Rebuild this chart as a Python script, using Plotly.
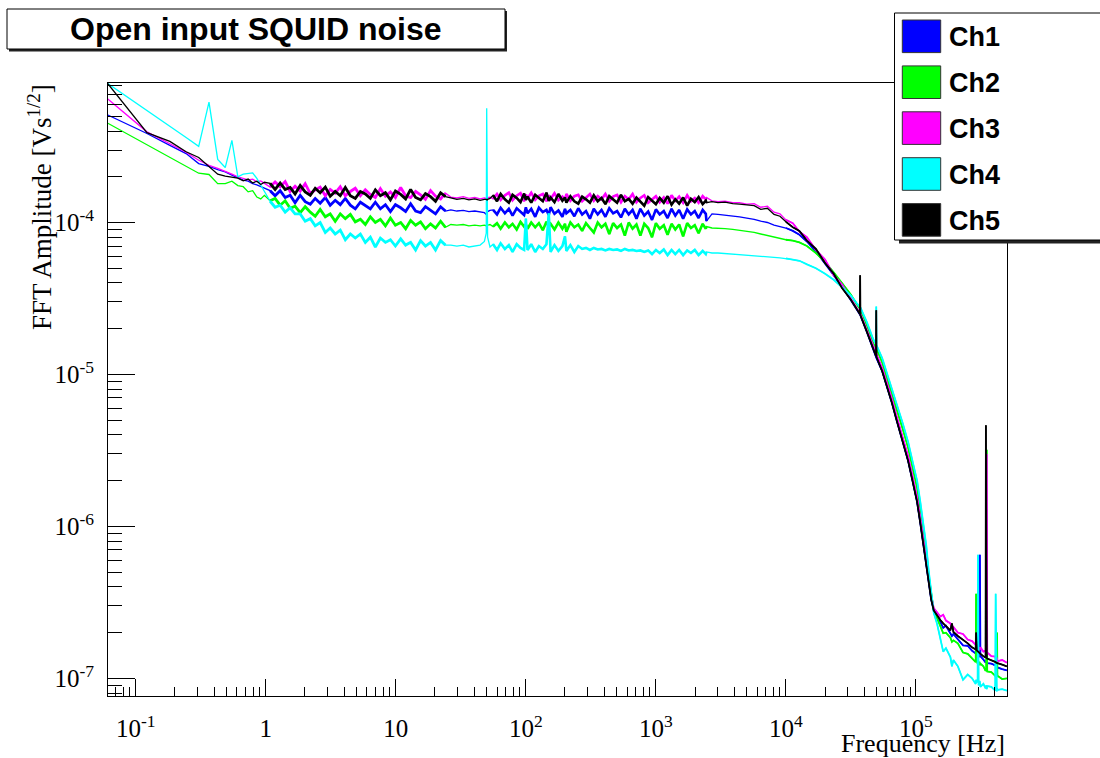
import plotly.graph_objects as go

# ---------------- data ----------------
AMP_UNIT = 1e-4  # all amplitude lists below are in units of 1e-4 V s^1/2

CHANNELS = ["Ch1", "Ch2", "Ch3", "Ch4", "Ch5"]
COLORS = ["#0000ff", "#00ff00", "#ff00ff", "#00ffff", "#000000"]

# block 1: lowest frequency bins (Hz)
FREQ_LOW = [0.061, 0.122, 0.183, 0.244, 0.305, 0.366, 0.427, 0.488, 0.549, 0.610,
            0.671, 0.732, 0.793, 0.854, 0.915, 0.976]
CH1_LOW = [5.1, 3.85, 3.22, 2.84, 2.44, 2.34, 2.23, 2.15, 2.05, 1.98, 1.90, 1.87, 1.80, 1.77, 1.72, 1.69]
CH2_LOW = [4.5, 3.26, 2.68, 2.34, 2.11, 2.07, 1.80, 1.80, 1.87, 1.75, 1.72, 1.59, 1.62, 1.47, 1.43, 1.51]
CH3_LOW = [6.5, 3.95, 3.30, 2.90, 2.57, 2.38, 2.27, 2.18, 2.08, 2.00, 1.96, 1.91, 1.93, 1.85, 1.88, 1.81]
CH4_LOW = [8.2, 5.49, 4.30, 3.63, 3.17, 6.20, 2.60, 2.30, 3.47, 2.00, 2.08, 2.10, 2.12, 1.95, 1.75, 1.60]
CH5_LOW = [8.2, 3.90, 3.42, 2.92, 2.68, 2.35, 2.08, 2.02, 1.98, 1.96, 1.88, 1.93, 1.82, 1.87, 1.78, 1.84]

# block 2: 1 - 25 Hz (dense, noisy)
FREQ_M1 = [1.08, 1.18, 1.29, 1.41, 1.54, 1.68, 1.84, 2.01, 2.2, 2.4, 2.62, 2.87, 3.13, 3.42, 3.74, 4.09,
           4.47, 4.88, 5.34, 5.83, 6.37, 6.96, 7.61, 8.32, 9.09, 9.93, 10.9, 11.9, 13.0, 14.2, 15.5, 16.9,
           18.5, 20.2, 22.1, 24.1]
CH1_M1 = [1.62, 1.50, 1.62, 1.46, 1.51, 1.35, 1.51, 1.37, 1.32, 1.44, 1.34, 1.46, 1.30, 1.40, 1.31, 1.44,
          1.30, 1.23, 1.36, 1.30, 1.23, 1.36, 1.23, 1.31, 1.18, 1.31, 1.25, 1.18, 1.33, 1.19, 1.16, 1.27,
          1.21, 1.14, 1.27, 1.19]
CH2_M1 = [1.39, 1.44, 1.30, 1.39, 1.24, 1.28, 1.16, 1.27, 1.17, 1.10, 1.22, 1.09, 1.14, 1.02, 1.14, 1.06,
          1.13, 1.01, 1.05, 0.97, 1.09, 1.00, 1.05, 0.95, 1.07, 0.96, 1.00, 0.91, 1.03, 0.96, 1.01, 0.91,
          0.98, 0.92, 1.02, 0.93]
CH3_M1 = [1.71, 1.85, 1.72, 1.86, 1.60, 1.73, 1.61, 1.80, 1.55, 1.64, 1.71, 1.50, 1.65, 1.56, 1.72, 1.50,
          1.60, 1.68, 1.50, 1.64, 1.53, 1.46, 1.67, 1.49, 1.59, 1.46, 1.70, 1.50, 1.46, 1.60, 1.52, 1.42,
          1.62, 1.49, 1.43, 1.56]
CH4_M1 = [1.38, 1.26, 1.30, 1.17, 1.25, 1.14, 1.14, 1.02, 1.06, 0.95, 1.00, 0.86, 0.92, 0.84, 0.89, 0.77,
          0.84, 0.79, 0.84, 0.74, 0.80, 0.69, 0.79, 0.74, 0.77, 0.70, 0.78, 0.71, 0.74, 0.66, 0.76, 0.70,
          0.74, 0.66, 0.76, 0.71]
CH5_M1 = [1.81, 1.65, 1.82, 1.65, 1.70, 1.54, 1.75, 1.59, 1.51, 1.68, 1.57, 1.71, 1.49, 1.60, 1.50, 1.70,
          1.50, 1.44, 1.60, 1.54, 1.44, 1.64, 1.50, 1.57, 1.41, 1.61, 1.53, 1.43, 1.65, 1.46, 1.41, 1.55,
          1.48, 1.38, 1.57, 1.48]

# block 3: 25 - 53 Hz (50 Hz line)
FREQ_M2 = [26.5, 29.5, 33.0, 36.5, 40.5, 44.5, 48.0, 49.6, 50.0, 50.2, 50.4, 50.8, 53.0]
CH1_M2 = [1.21, 1.19, 1.20, 1.18, 1.19, 1.17, 1.16, 1.13, 1.15, 1.16, 1.17, 1.18, 1.20]
CH2_M2 = [0.97, 0.96, 0.97, 0.95, 0.96, 0.95, 0.96, 0.95, 0.98, 0.96, 0.95, 0.96, 0.97]
CH3_M2 = [1.47, 1.45, 1.48, 1.44, 1.46, 1.43, 1.45, 1.44, 1.46, 1.45, 1.44, 1.46, 1.47]
CH4_M2 = [0.71, 0.70, 0.71, 0.69, 0.70, 0.71, 0.75, 0.85, 5.65, 1.20, 2.90, 0.80, 0.69]
CH5_M2 = [1.45, 1.42, 1.44, 1.41, 1.43, 1.40, 1.42, 1.41, 1.42, 1.40, 1.41, 1.42, 1.44]

# block 4: 56 - 2450 Hz (dense, noisy)
FREQ_M3 = [56, 60, 64, 69, 74, 79, 85, 91, 97, 100,
           103, 110, 118, 126, 135, 144, 150, 155, 166, 178,
           191, 200, 205, 220, 236, 253, 271, 290, 311, 333,
           357, 382, 409, 438, 469, 503, 539, 577, 618, 662,
           709, 760, 814, 872, 934, 1000, 1070, 1150, 1230, 1320,
           1410, 1510, 1620, 1740, 1860, 1990, 2130, 2290, 2420, 2450]
CH1_M3 = [1.21, 1.13, 1.25, 1.15, 1.23, 1.11, 1.24, 1.18, 1.12, 1.26,
          1.15, 1.23, 1.09, 1.25, 1.17, 1.21, 1.12, 1.26, 1.14, 1.20,
          1.09, 1.23, 1.15, 1.21, 1.10, 1.24, 1.13, 1.19, 1.06, 1.23,
          1.13, 1.21, 1.09, 1.24, 1.15, 1.19, 1.08, 1.23, 1.13, 1.21,
          1.06, 1.23, 1.11, 1.18, 1.04, 1.22, 1.13, 1.19, 1.07, 1.23,
          1.11, 1.21, 1.06, 1.22, 1.13, 1.19, 1.07, 1.21, 1.14, 1.02]
CH2_M3 = [0.94, 0.99, 0.91, 1.00, 0.93, 0.98, 0.90, 1.01, 0.94, 0.97,
          0.91, 1.00, 0.93, 0.99, 0.89, 1.01, 0.94, 0.98, 0.90, 1.00,
          0.91, 0.98, 0.87, 1.00, 0.93, 0.97, 0.88, 0.99, 0.92, 0.86,
          1.00, 0.93, 0.98, 0.84, 0.99, 0.92, 0.97, 0.82, 1.00, 0.91,
          0.97, 0.82, 0.98, 0.92, 0.80, 0.99, 0.91, 0.96, 0.83, 0.98,
          0.90, 0.97, 0.81, 0.99, 0.92, 0.96, 0.85, 0.98, 0.91, 0.94]
CH3_M3 = [1.43, 1.54, 1.41, 1.51, 1.57, 1.40, 1.50, 1.56, 1.38, 1.53,
          1.44, 1.57, 1.41, 1.50, 1.54, 1.38, 1.51, 1.43, 1.56, 1.40,
          1.48, 1.41, 1.54, 1.39, 1.49, 1.52, 1.38, 1.46, 1.54, 1.39,
          1.49, 1.42, 1.54, 1.38, 1.48, 1.52, 1.36, 1.49, 1.42, 1.54,
          1.36, 1.45, 1.51, 1.35, 1.42, 1.49, 1.36, 1.46, 1.33, 1.51,
          1.39, 1.48, 1.35, 1.51, 1.38, 1.45, 1.35, 1.49, 1.42, 1.46]
CH4_M3 = [0.72, 0.66, 0.73, 0.67, 0.71, 0.64, 0.72, 0.68, 0.66, 1.06,
          0.66, 0.72, 0.64, 0.70, 0.67, 0.72, 1.15, 0.64, 0.71, 0.65,
          0.70, 0.81, 0.65, 0.71, 0.64, 0.70, 0.67, 0.68, 0.66, 0.68,
          0.665, 0.67, 0.655, 0.67, 0.66, 0.665, 0.65, 0.67, 0.655, 0.66,
          0.65, 0.655, 0.64, 0.655, 0.62, 0.66, 0.63, 0.665, 0.61, 0.66,
          0.62, 0.66, 0.61, 0.655, 0.63, 0.66, 0.61, 0.65, 0.62, 0.64]
CH5_M3 = [1.51, 1.38, 1.54, 1.42, 1.35, 1.52, 1.45, 1.36, 1.55, 1.41,
          1.48, 1.35, 1.52, 1.44, 1.38, 1.57, 1.39, 1.46, 1.36, 1.54,
          1.39, 1.46, 1.35, 1.49, 1.38, 1.33, 1.48, 1.42, 1.35, 1.51,
          1.38, 1.45, 1.32, 1.49, 1.41, 1.35, 1.52, 1.38, 1.43, 1.33,
          1.46, 1.36, 1.29, 1.47, 1.39, 1.32, 1.45, 1.35, 1.49, 1.31,
          1.42, 1.33, 1.46, 1.29, 1.43, 1.36, 1.47, 1.32, 1.39, 1.35]

# block 5: 2.7 - 9 kHz
FREQ_M4 = [2700, 3000, 3400, 3900, 4400, 5000, 5700, 6400, 7200, 8100, 9000]
CH1_M4 = [1.14, 1.13, 1.12, 1.11, 1.09, 1.07, 1.05, 1.02, 1.00, 0.96, 0.94]
CH2_M4 = [0.92, 0.92, 0.91, 0.90, 0.89, 0.88, 0.86, 0.84, 0.82, 0.80, 0.78]
CH3_M4 = [1.39, 1.37, 1.38, 1.35, 1.35, 1.32, 1.33, 1.26, 1.28, 1.17, 1.14]
CH4_M4 = [0.63, 0.63, 0.625, 0.62, 0.62, 0.615, 0.61, 0.60, 0.595, 0.59, 0.585]
CH5_M4 = [1.37, 1.35, 1.36, 1.33, 1.32, 1.30, 1.29, 1.22, 1.24, 1.13, 1.10]

# block 6: roll-off and high-frequency tail
FREQ_R = [1.0e4, 1.13e4, 1.27e4, 1.45e4, 1.7e4, 2.0e4, 2.33e4, 2.7e4, 3.16e4, 3.5e4,
          3.70e4, 3.72e4, 3.74e4, 4.2e4, 4.7e4, 4.93e4, 4.95e4, 4.97e4, 5.5e4, 6.0e4,
          6.5e4, 7.1e4, 7.9e4, 8.7e4, 9.4e4, 1.02e5, 1.08e5, 1.14e5, 1.2e5, 1.25e5,
          1.31e5, 1.37e5, 1.45e5, 1.54e5, 1.62e5, 1.7e5, 1.84e5, 1.89e5, 1.94e5, 2.1e5,
          2.3e5, 2.5e5, 2.7e5, 2.88e5, 2.9e5, 2.93e5, 2.98e5, 3.0e5, 3.03e5, 3.08e5,
          3.1e5, 3.13e5, 3.3e5, 3.43e5, 3.45e5, 3.47e5, 3.5e5, 3.53e5, 3.8e5, 4.07e5,
          4.1e5, 4.13e5, 4.18e5, 4.2e5, 4.23e5, 4.6e5, 5.0e5]
CH1_R = [0.92, 0.88, 0.83, 0.75, 0.645, 0.54, 0.45, 0.38, 0.31, 0.27,
         0.25, 0.248, 0.245, 0.19, 0.145, 0.13, 0.129, 0.128, 0.105, 0.083,
         0.066, 0.050, 0.036, 0.027, 0.020, 0.0145, 0.0105, 0.0075, 0.0055, 0.0042,
         0.0033, 0.0028, 0.0025, 0.00235, 0.00215, 0.00222, 0.00198, 0.0019, 0.00196, 0.0018,
         0.00165, 0.00164, 0.00152, 0.00146, 0.0015, 0.00147, 0.00142, 0.00146, 0.00143, 0.00138,
         0.0065, 0.0014, 0.00133, 0.00127, 0.0013, 0.00131, 0.00129, 0.00126, 0.00125, 0.00121,
         0.0012, 0.00121, 0.00117, 0.0012, 0.00118, 0.00115, 0.00113]
CH2_R = [0.77, 0.76, 0.74, 0.70, 0.63, 0.55, 0.47, 0.40, 0.335, 0.29,
         0.272, 0.27, 0.268, 0.21, 0.16, 0.15, 0.149, 0.148, 0.12, 0.095,
         0.077, 0.060, 0.044, 0.033, 0.025, 0.018, 0.013, 0.0095, 0.0068, 0.0048,
         0.0035, 0.0028, 0.0025, 0.0022, 0.00198, 0.0020, 0.00185, 0.00174, 0.00178, 0.0017,
         0.00148, 0.00145, 0.00135, 0.00128, 0.0036, 0.00131, 0.00125, 0.00129, 0.00126, 0.00127,
         0.00122, 0.00125, 0.0012, 0.00112, 0.00116, 0.00115, 0.032, 0.00111, 0.0011, 0.00104,
         0.00106, 0.00107, 0.00102, 0.0020, 0.00104, 0.00099, 0.0010]
CH3_R = [1.04, 0.99, 0.87, 0.80, 0.66, 0.57, 0.45, 0.39, 0.315, 0.275,
         0.255, 0.252, 0.25, 0.195, 0.15, 0.138, 0.137, 0.136, 0.11, 0.087,
         0.070, 0.053, 0.039, 0.029, 0.0215, 0.0155, 0.0113, 0.0080, 0.0059, 0.0044,
         0.0035, 0.0029, 0.0027, 0.00255, 0.00262, 0.0024, 0.0023, 0.00212, 0.00218, 0.0020,
         0.00196, 0.0018, 0.00176, 0.00166, 0.00165, 0.0017, 0.00158, 0.00163, 0.0016, 0.00154,
         0.00157, 0.0016, 0.0015, 0.00152, 0.00146, 0.00146, 0.030, 0.00148, 0.0014, 0.00139,
         0.00135, 0.00132, 0.00137, 0.00134, 0.0013, 0.00132, 0.00127]
CH4_R = [0.58, 0.57, 0.56, 0.53, 0.50, 0.46, 0.42, 0.375, 0.33, 0.295,
         0.28, 0.278, 0.276, 0.22, 0.17, 0.158, 0.28, 0.156, 0.128, 0.10,
         0.082, 0.064, 0.048, 0.036, 0.027, 0.020, 0.0145, 0.0105, 0.0075, 0.0052,
         0.0036, 0.0027, 0.0023, 0.00185, 0.0015, 0.00158, 0.00138, 0.0012, 0.00132, 0.0012,
         0.00098, 0.00106, 0.0010, 0.00092, 0.00098, 0.00094, 0.00097, 0.0065, 0.0009, 0.00096,
         0.00095, 0.00088, 0.00092, 0.00086, 0.0009, 0.0009, 0.00085, 0.00089, 0.00088, 0.00083,
         0.0036, 0.00087, 0.00082, 0.00086, 0.00084, 0.00085, 0.00083]
CH5_R = [1.01, 0.93, 0.88, 0.76, 0.67, 0.54, 0.46, 0.37, 0.31, 0.27,
         0.25, 0.45, 0.245, 0.19, 0.145, 0.132, 0.265, 0.13, 0.105, 0.083,
         0.066, 0.050, 0.036, 0.027, 0.020, 0.0145, 0.0105, 0.0075, 0.0055, 0.0042,
         0.0033, 0.0028, 0.0026, 0.00242, 0.0023, 0.0022, 0.00207, 0.0023, 0.00202, 0.0019,
         0.0018, 0.0017, 0.0016, 0.00155, 0.0020, 0.00153, 0.00151, 0.0015, 0.00149, 0.00147,
         0.00146, 0.00145, 0.0014, 0.00137, 0.0464, 0.00136, 0.00136, 0.00135, 0.00132, 0.00128,
         0.00128, 0.00127, 0.00127, 0.00126, 0.00126, 0.00123, 0.0012]

X_TICKS = [0.1, 1, 10, 100, 1000, 1e4, 1e5]
X_TICKTEXT = ["10<sup>-1</sup>", "1", "10", "10<sup>2</sup>", "10<sup>3</sup>", "10<sup>4</sup>", "10<sup>5</sup>"]
Y_TICKS = [1e-7, 1e-6, 1e-5, 1e-4]
Y_TICKTEXT = ["10<sup>-7</sup>", "10<sup>-6</sup>", "10<sup>-5</sup>", "10<sup>-4</sup>"]

TITLE = "Open input SQUID noise"
X_TITLE = "Frequency [Hz]"
Y_TITLE = "FFT Amplitude [Vs<sup>1/2</sup>]"

# ---------------- assemble ----------------
blocks_f = [FREQ_LOW, FREQ_M1, FREQ_M2, FREQ_M3, FREQ_M4, FREQ_R]
blocks = [
    [CH1_LOW, CH1_M1, CH1_M2, CH1_M3, CH1_M4, CH1_R],
    [CH2_LOW, CH2_M1, CH2_M2, CH2_M3, CH2_M4, CH2_R],
    [CH3_LOW, CH3_M1, CH3_M2, CH3_M3, CH3_M4, CH3_R],
    [CH4_LOW, CH4_M1, CH4_M2, CH4_M3, CH4_M4, CH4_R],
    [CH5_LOW, CH5_M1, CH5_M2, CH5_M3, CH5_M4, CH5_R],
]
# the noisy, densely sampled stretches are drawn heavier: block index -> line width
DENSE_WIDTH = {1: 2.8, 3: 2.6, 5: 1.8}

freq = [f for b in blocks_f for f in b]
for chb in blocks:
    for fb, vb in zip(blocks_f, chb):
        assert len(fb) == len(vb), (len(fb), len(vb))

W, H = 1100, 758
ML, MR, MT, MB = 108, 93, 83, 62
PW, PH = W - ML - MR, H - MT - MB


def px(x):
    return (x - ML) / PW


def py(y):
    return (H - MB - y) / PH


fig = go.Figure()
for name, color, chb in zip(CHANNELS, COLORS, blocks):
    vals = [v * AMP_UNIT for b in chb for v in b]
    fig.add_trace(go.Scatter(
        x=freq, y=vals, mode="lines", name=name,
        line=dict(color=color, width=1.3), showlegend=False, hoverinfo="skip"))
    for bi, lw in DENSE_WIDTH.items():
        fig.add_trace(go.Scatter(
            x=blocks_f[bi], y=[v * AMP_UNIT for v in chb[bi]], mode="lines", name=name,
            line=dict(color=color, width=lw), showlegend=False, hoverinfo="skip"))

x_minor = [k * 10.0 ** d for d in range(-2, 6) for k in range(2, 10)
           if 0.0612 <= k * 10.0 ** d <= 5.0e5]
y_minor = [k * 10.0 ** d for d in range(-8, -3) for k in range(2, 10)
           if 7.7e-8 <= k * 10.0 ** d <= 8.2e-4]

serif = "Liberation Serif, Times New Roman, serif"
sans = "Liberation Sans, Arial, sans-serif"

fig.update_xaxes(
    type="log", range=[-1.2132, 5.700], showgrid=False, zeroline=False,
    showline=True, linecolor="black", linewidth=1, mirror=True,
    ticks="inside", ticklen=17, tickcolor="black", tickwidth=1,
    tickmode="array", tickvals=X_TICKS, ticktext=X_TICKTEXT,
    tickfont=dict(family=serif, size=25, color="black"), ticklabelstandoff=10,
    minor=dict(ticks="inside", ticklen=9, tickcolor="black", tickwidth=1,
               tickmode="array", tickvals=x_minor, showgrid=False),
)
fig.update_yaxes(
    type="log", range=[-7.116, -3.082], showgrid=False, zeroline=False,
    showline=True, linecolor="black", linewidth=1, mirror=True,
    ticks="inside", ticklen=27, tickcolor="black", tickwidth=1,
    tickmode="array", tickvals=Y_TICKS, ticktext=Y_TICKTEXT,
    tickfont=dict(family=serif, size=25, color="black"), ticklabelstandoff=8,
    minor=dict(ticks="inside", ticklen=14, tickcolor="black", tickwidth=1,
               tickmode="array", tickvals=y_minor, showgrid=False),
)

shapes = []
annotations = []

# title box with shadow
shapes.append(dict(type="rect", xref="paper", yref="paper", x0=px(9), x1=px(507), y0=py(51.5), y1=py(11),
                   line=dict(width=0), fillcolor="#222222", layer="above"))
shapes.append(dict(type="rect", xref="paper", yref="paper", x0=px(7), x1=px(505), y0=py(49), y1=py(9),
                   line=dict(color="black", width=1), fillcolor="white", layer="above"))
annotations.append(dict(xref="paper", yref="paper", x=px(256), y=py(29), xanchor="center", yanchor="middle",
                        text="<b>" + TITLE + "</b>", showarrow=False,
                        font=dict(family=sans, size=32, color="black")))

# legend box with shadow
shapes.append(dict(type="rect", xref="paper", yref="paper", x0=px(899), x1=px(1110), y0=py(243.5), y1=py(16),
                   line=dict(width=0), fillcolor="#222222", layer="above"))
shapes.append(dict(type="rect", xref="paper", yref="paper", x0=px(894.5), x1=px(1108), y0=py(240), y1=py(13),
                   line=dict(color="black", width=1), fillcolor="white", layer="above"))
for i, (name, color) in enumerate(zip(CHANNELS, COLORS)):
    yc = 36.3 + i * 45.9
    shapes.append(dict(type="rect", xref="paper", yref="paper", x0=px(902.3), x1=px(940.7),
                       y0=py(yc + 16.3), y1=py(yc - 16.3),
                       line=dict(color="#333333", width=1), fillcolor=color, layer="above"))
    annotations.append(dict(xref="paper", yref="paper", x=px(947), y=py(yc + 1), xanchor="left",
                            yanchor="middle", text="<b>" + name + "</b>", showarrow=False,
                            font=dict(family=sans, size=27, color="black")))

# axis titles
annotations.append(dict(xref="paper", yref="paper", x=px(1007), y=py(743), xanchor="right", yanchor="middle",
                        text=X_TITLE, showarrow=False, font=dict(family=serif, size=26, color="black")))
annotations.append(dict(xref="paper", yref="paper", x=px(40), y=py(82), xanchor="center", yanchor="top",
                        text=Y_TITLE, textangle=-90, showarrow=False,
                        font=dict(family=serif, size=27, color="black")))

fig.update_layout(
    width=W, height=H, margin=dict(l=ML, r=MR, t=MT, b=MB),
    paper_bgcolor="white", plot_bgcolor="white",
    shapes=shapes, annotations=annotations, showlegend=False,
)

fig.write_html("out.html")
